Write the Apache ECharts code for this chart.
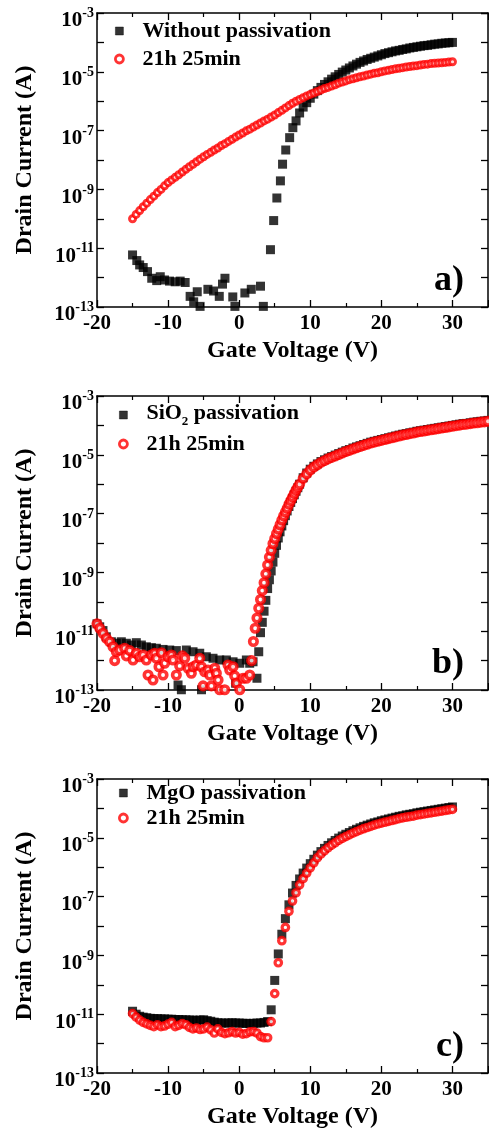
<!DOCTYPE html>
<html>
<head>
<meta charset="utf-8">
<script src="https://cdn.jsdelivr.net/npm/echarts@6/dist/echarts.min.js"></script>
<style>
  html, body { margin: 0; padding: 0; background: #fff; }
  #chart { width: 489px; height: 1133px; }
</style>
</head>
<body>
<div id="chart"></div>
<script>
// gate voltage sweep used by panels a) and c)
const vgSweep = [-15,-14.5,-14,-13.5,-13,-12.5,-12,-11.5,-11,-10.5,-10,-9.5,-9,-8.5,-8,-7.5,-7,-6.5,-6,-5.5,-5,-4.5,-4,-3.5,-3,-2.5,-2,-1.5,-1,-0.5,0,0.5,1,1.5,2,2.5,3,3.5,4,4.5,5,5.5,6,6.5,7,7.5,8,8.5,9,9.5,10,10.5,11,11.5,12,12.5,13,13.5,14,14.5,15,15.5,16,16.5,17,17.5,18,18.5,19,19.5,20,20.5,21,21.5,22,22.5,23,23.5,24,24.5,25,25.5,26,26.5,27,27.5,28,28.5,29,29.5,30];

// a) without passivation (black squares)
const aBlackV = [-15,-14.4,-14,-13.5,-12.9,-12.3,-11.6,-11.1,-10.5,-9.8,-9,-8.3,-7.6,-6.9,-6.4,-5.9,-5.5,-4.4,-3.6,-2.8,-2.35,-2,-0.9,-0.6,0.8,1.7,3,3.4,4.4,4.85,5.3,5.8,6.1,6.55,7.1,7.55,8,8.5,9,9.5,10,10.5,11,11.5,12,12.5,13,13.5,14,14.5,15,15.5,16,16.5,17,17.5,18,18.5,19,19.5,20,20.5,21,21.5,22,22.5,23,23.5,24,24.5,25,25.5,26,26.5,27,27.5,28,28.5,29,29.5,30];
const aBlackI = [5.9e-12,3.8e-12,2.7e-12,2.2e-12,1.6e-12,9.5e-13,7.9e-13,1.07e-12,8.3e-13,7.6e-13,7.2e-13,7.6e-13,6.8e-13,2.3e-13,1.5e-13,3.3e-13,1.05e-13,4.0e-13,3.5e-13,2.3e-13,6.0e-13,9.5e-13,2.2e-13,1.05e-13,3.0e-13,4.0e-13,5.1e-13,1.05e-13,8.9e-12,8.7e-11,5.1e-10,1.95e-9,7.2e-9,2.19e-8,5.75e-8,1.26e-7,2.14e-7,3.98e-7,6.31e-7,8.91e-7,1.26e-6,1.74e-6,2.29e-6,2.95e-6,3.72e-6,4.57e-6,5.62e-6,6.76e-6,8.13e-6,9.77e-6,1.15e-5,1.35e-5,1.58e-5,1.82e-5,2.09e-5,2.34e-5,2.63e-5,2.88e-5,3.16e-5,3.47e-5,3.8e-5,4.17e-5,4.47e-5,4.79e-5,5.13e-5,5.37e-5,5.75e-5,6.03e-5,6.46e-5,6.76e-5,7.08e-5,7.41e-5,7.76e-5,7.94e-5,8.32e-5,8.71e-5,8.91e-5,9.33e-5,9.55e-5,9.77e-5,1.0e-4];
// a) after 21h 25min (red circles), on vgSweep
const aRedI = [1.0e-10,1.41e-10,1.9e-10,2.57e-10,3.4e-10,4.5e-10,5.9e-10,7.8e-10,1.0e-9,1.32e-9,1.7e-9,2.1e-9,2.57e-9,3.16e-9,3.9e-9,4.8e-9,5.9e-9,7.2e-9,8.7e-9,1.07e-8,1.29e-8,1.55e-8,1.82e-8,2.19e-8,2.57e-8,3.1e-8,3.6e-8,4.3e-8,5.1e-8,6.0e-8,7.1e-8,8.3e-8,9.8e-8,1.12e-7,1.32e-7,1.55e-7,1.82e-7,2.14e-7,2.45e-7,2.9e-7,3.4e-7,4.1e-7,4.9e-7,5.9e-7,7.1e-7,8.5e-7,1.0e-6,1.15e-6,1.32e-6,1.51e-6,1.7e-6,1.9e-6,2.14e-6,2.4e-6,2.7e-6,2.95e-6,3.3e-6,3.6e-6,4.1e-6,4.5e-6,4.9e-6,5.4e-6,5.75e-6,6.3e-6,6.8e-6,7.2e-6,7.8e-6,8.3e-6,8.9e-6,9.3e-6,1.0e-5,1.07e-5,1.12e-5,1.2e-5,1.26e-5,1.32e-5,1.38e-5,1.45e-5,1.51e-5,1.58e-5,1.62e-5,1.7e-5,1.78e-5,1.82e-5,1.9e-5,1.95e-5,2.0e-5,2.04e-5,2.09e-5,2.14e-5,2.19e-5];

// b) SiO2 passivation (black squares)
const bBlackV = [-20,-19.62,-19.16,-18.69,-17.98,-17.28,-16.58,-15.87,-15.17,-14.47,-13.76,-13.06,-12.35,-11.65,-10.71,-9.77,-8.84,-8.6,-8.13,-7.43,-6.49,-5.55,-5.3,-4.62,-3.68,-2.74,-1.8,-0.86,-0.5,0.08,1.01,1.48,1.95,2.5,2.75,3,3.25,3.5,3.75,4,4.25,4.5,4.75,5,5.25,5.5,5.75,6,6.25,6.5,6.75,7,7.25,7.5,7.75,8,8.25,8.5,9,9.5,10,10.5,11,11.5,12,12.5,13,13.5,14,14.5,15,15.5,16,16.5,17,17.5,18,18.5,19,19.5,20,20.5,21,21.5,22,22.5,23,23.5,24,24.5,25,25.5,26,26.5,27,27.5,28,28.5,29,29.5,30,30.5,31,31.5,32,32.5,33,33.5,34,34.5,35];
const bBlackI = [1.78e-11,1.41e-11,1.05e-11,6.46e-12,4.37e-12,3.89e-12,4.37e-12,3.89e-12,3.39e-12,4.07e-12,3.39e-12,2.95e-12,2.75e-12,2.63e-12,2.4e-12,2.29e-12,2.19e-12,1.48e-13,1.02e-13,2.29e-12,2.0e-12,1.78e-12,1.02e-13,1.35e-12,1.2e-12,1.05e-12,1.05e-12,9.12e-13,1.7e-13,8.13e-13,1.05e-12,8.13e-13,9.12e-13,2.51e-13,2.0e-12,8.91e-12,2.0e-11,4.79e-11,1.12e-10,2.82e-10,5.62e-10,1.12e-9,2.24e-9,4.47e-9,8.32e-9,1.48e-8,2.4e-8,3.8e-8,5.75e-8,8.51e-8,1.23e-7,1.74e-7,2.4e-7,3.24e-7,4.37e-7,5.75e-7,7.59e-7,1.0e-6,1.66e-6,2.4e-6,3.24e-6,4.07e-6,4.9e-6,5.89e-6,6.76e-6,7.76e-6,8.71e-6,9.77e-6,1.1e-5,1.23e-5,1.38e-5,1.51e-5,1.7e-5,1.86e-5,2.04e-5,2.24e-5,2.45e-5,2.69e-5,2.88e-5,3.09e-5,3.31e-5,3.55e-5,3.8e-5,4.07e-5,4.37e-5,4.68e-5,5.01e-5,5.25e-5,5.62e-5,5.89e-5,6.31e-5,6.61e-5,6.92e-5,7.24e-5,7.59e-5,7.94e-5,8.32e-5,8.71e-5,9.12e-5,9.55e-5,1.0e-4,1.05e-4,1.1e-4,1.15e-4,1.17e-4,1.23e-4,1.29e-4,1.32e-4,1.38e-4,1.41e-4,1.48e-4];
// b) after 21h 25min (red circles)
const bRedV = [-20,-19.62,-19.16,-18.69,-18.22,-17.75,-17.51,-17.28,-16.81,-16.11,-15.87,-15.4,-14.93,-14.47,-14,-13.53,-13.06,-12.82,-12.35,-12.12,-11.89,-11.65,-11.28,-10.95,-10.71,-10.48,-10.01,-9.54,-9.31,-8.84,-8.37,-7.99,-7.66,-7.19,-6.73,-6.49,-6.02,-5.55,-5.32,-5.08,-4.85,-4.38,-4.15,-3.91,-3.44,-3.21,-2.97,-2.74,-2.04,-1.57,-1.33,-0.86,-0.63,-0.39,0.08,0.54,1.01,1.48,1.75,2,2.25,2.5,2.75,3,3.25,3.5,3.75,4,4.25,4.5,4.75,5,5.25,5.5,5.75,6,6.25,6.5,6.75,7,7.25,7.5,7.75,8,8.25,8.5,9,9.5,10,10.5,11,11.5,12,12.5,13,13.5,14,14.5,15,15.5,16,16.5,17,17.5,18,18.5,19,19.5,20,20.5,21,21.5,22,22.5,23,23.5,24,24.5,25,25.5,26,26.5,27,27.5,28,28.5,29,29.5,30,30.5,31,31.5,32,32.5,33,33.5,34,34.5,35];
const bRedI = [1.78e-11,1.26e-11,8.5e-12,5.75e-12,4.37e-12,2.95e-12,1.0e-12,2.0e-12,2.29e-12,2.63e-12,1.45e-12,2.19e-12,1.05e-12,1.78e-12,1.35e-12,1.55e-12,1.05e-12,3.24e-13,1.55e-12,2.19e-13,1.78e-12,1.2e-12,6.17e-13,1.86e-12,3.24e-13,8.13e-13,1.35e-12,1.55e-12,1.05e-12,3.24e-13,6.61e-13,1.45e-12,1.2e-12,5.5e-13,3.72e-13,6.17e-13,7.08e-13,1.2e-12,6.17e-13,1.38e-13,4.17e-13,4.79e-13,3.24e-13,1.38e-13,5.5e-13,3.72e-13,2.19e-13,1.02e-13,1.02e-13,7.08e-13,4.79e-13,6.17e-13,3.02e-13,1.7e-13,1.02e-13,2.51e-13,2.51e-13,3.24e-13,1.0e-12,4.47e-12,1.26e-11,2.82e-11,6.03e-11,1.2e-10,2.4e-10,4.47e-10,8.91e-10,1.78e-9,3.31e-9,5.62e-9,9.55e-9,1.41e-8,2.09e-8,2.95e-8,4.17e-8,6.03e-8,8.32e-8,1.12e-7,1.51e-7,2.09e-7,2.75e-7,3.63e-7,4.79e-7,6.31e-7,7.94e-7,1.0e-6,1.58e-6,2.24e-6,3.02e-6,3.8e-6,4.57e-6,5.5e-6,6.31e-6,7.24e-6,8.13e-6,9.12e-6,1.02e-5,1.15e-5,1.29e-5,1.41e-5,1.58e-5,1.74e-5,1.91e-5,2.09e-5,2.29e-5,2.51e-5,2.69e-5,2.88e-5,3.09e-5,3.31e-5,3.55e-5,3.8e-5,4.07e-5,4.37e-5,4.68e-5,4.9e-5,5.25e-5,5.5e-5,5.89e-5,6.17e-5,6.46e-5,6.76e-5,7.08e-5,7.41e-5,7.76e-5,8.13e-5,8.51e-5,8.91e-5,9.33e-5,9.77e-5,1.02e-4,1.07e-4,1.1e-4,1.15e-4,1.2e-4,1.23e-4,1.29e-4,1.32e-4,1.38e-4];

// c) MgO passivation, both on vgSweep
const cBlackI = [1.26e-11,1.0e-11,8.51e-12,7.94e-12,7.59e-12,7.24e-12,7.08e-12,7.08e-12,6.92e-12,6.92e-12,6.76e-12,6.76e-12,6.61e-12,6.61e-12,6.46e-12,6.46e-12,6.31e-12,6.31e-12,6.17e-12,6.31e-12,6.46e-12,6.03e-12,5.75e-12,5.37e-12,5.13e-12,5.01e-12,5.01e-12,5.01e-12,5.13e-12,5.01e-12,5.01e-12,4.9e-12,4.9e-12,4.79e-12,4.9e-12,5.01e-12,5.01e-12,5.25e-12,5.62e-12,1.41e-11,1.41e-10,1.12e-9,5.25e-9,1.78e-8,5.25e-8,1.32e-7,2.4e-7,3.98e-7,6.31e-7,9.33e-7,1.32e-6,1.86e-6,2.57e-6,3.39e-6,4.37e-6,5.5e-6,6.76e-6,8.13e-6,9.77e-6,1.15e-5,1.32e-5,1.51e-5,1.74e-5,1.95e-5,2.19e-5,2.45e-5,2.69e-5,2.95e-5,3.24e-5,3.47e-5,3.8e-5,4.07e-5,4.37e-5,4.68e-5,5.01e-5,5.37e-5,5.62e-5,6.03e-5,6.31e-5,6.61e-5,7.08e-5,7.41e-5,7.76e-5,8.13e-5,8.51e-5,8.91e-5,9.33e-5,9.77e-5,1.02e-4,1.07e-4,1.12e-4];
const cRedI = [1.05e-11,7.94e-12,6.31e-12,5.25e-12,4.68e-12,4.17e-12,3.8e-12,4.37e-12,3.8e-12,3.98e-12,4.57e-12,5.25e-12,3.8e-12,4.17e-12,4.79e-12,4.37e-12,3.55e-12,3.16e-12,3.39e-12,3.02e-12,3.16e-12,3.63e-12,2.95e-12,2.29e-12,3.16e-12,2.4e-12,2.19e-12,2.34e-12,2.57e-12,2.29e-12,2.4e-12,2.09e-12,2.19e-12,2.51e-12,2.57e-12,2.29e-12,1.74e-12,1.58e-12,1.58e-12,5.62e-12,5.01e-11,5.62e-10,3.16e-9,8.91e-9,3.16e-8,7.08e-8,1.35e-7,2.51e-7,4.07e-7,6.31e-7,9.55e-7,1.41e-6,2.09e-6,2.82e-6,3.63e-6,4.57e-6,5.62e-6,6.76e-6,8.13e-6,9.55e-6,1.1e-5,1.26e-5,1.45e-5,1.62e-5,1.82e-5,2.04e-5,2.24e-5,2.45e-5,2.69e-5,2.95e-5,3.16e-5,3.39e-5,3.63e-5,3.89e-5,4.17e-5,4.47e-5,4.79e-5,5.01e-5,5.25e-5,5.5e-5,5.89e-5,6.17e-5,6.46e-5,6.76e-5,7.08e-5,7.41e-5,7.76e-5,8.13e-5,8.51e-5,8.91e-5,9.33e-5];

const xTicks = [-20, 35, 10];          // min, max, step
const yRange = [1e-13, 1e-3];
const panelLabels = ['a)', 'b)', 'c)'];
const firstNames = ['Without passivation', 'SiO2 passivation', 'MgO passivation'];
const agedName = '21h 25min';

const FONT = '"Liberation Serif", "Times New Roman", serif';
const tops = [13, 396, 779];
const zip = (v, c) => v.map((x, k) => [x, c[k]]);

const chart = echarts.init(document.getElementById('chart'));

let grids = [], xAxes = [], yAxes = [], legends = [], graphics = [];
tops.forEach((top, i) => {
  grids.push({ left: 97, top: top, width: 391, height: 294 });
  const line = { show: true, onZero: false, lineStyle: { color: '#000', width: 1.5 } };
  const tick = { show: true, inside: true, length: 7, lineStyle: { color: '#000', width: 1.3 } };
  const xBase = { type: 'value', gridIndex: i, min: xTicks[0], max: xTicks[1], interval: xTicks[2],
    axisLine: line, axisTick: tick, splitLine: { show: false },
    minorTick: { show: true, splitNumber: 2, length: 4, lineStyle: { color: '#000', width: 1.2 } } };
  xAxes.push(Object.assign({}, xBase, {
    position: 'bottom',
    axisLabel: { margin: 6, fontSize: 21, fontWeight: 'bold', fontFamily: FONT, color: '#000', showMaxLabel: false },
    name: 'Gate Voltage (V)', nameLocation: 'middle', nameGap: 32,
    nameTextStyle: { fontSize: 24, fontWeight: 'bold', fontFamily: FONT, color: '#000' }
  }));
  xAxes.push(Object.assign({}, xBase, { position: 'top', axisLabel: { show: false } }));

  const yBase = { type: 'log', logBase: 10, gridIndex: i, min: yRange[0], max: yRange[1], splitNumber: 10,
    axisLine: line, axisTick: tick, splitLine: { show: false } };
  yAxes.push(Object.assign({}, yBase, {
    position: 'left',
    axisLabel: {
      margin: 3, padding: [12, 0, 0, 0],
      formatter: v => { const e = Math.round(Math.log10(v)); return e % 2 ? '{b|10}{s|' + e + '}' : ''; },
      rich: {
        b: { fontSize: 21, fontWeight: 'bold', fontFamily: FONT, color: '#000', lineHeight: 25, verticalAlign: 'bottom' },
        s: { fontSize: 14, fontWeight: 'bold', fontFamily: FONT, color: '#000', lineHeight: 12, verticalAlign: 'top' }
      }
    },
    name: 'Drain Current (A)', nameLocation: 'middle', nameGap: 60, nameRotate: 90,
    nameTextStyle: { fontSize: 24, fontWeight: 'bold', fontFamily: FONT, color: '#000' }
  }));
  yAxes.push(Object.assign({}, yBase, { position: 'right', axisLabel: { show: false } }));

  const gaps = [6, 5, 3];
  const legTop = [top + 2, top + 1, top - 2];
  legends.push({
    orient: 'vertical', left: i === 0 ? 109 : 113, top: legTop[i], itemWidth: 8, itemHeight: 8,
    itemGap: gaps[i], selectedMode: false,
    data: [
      { name: firstNames[i], icon: 'rect', itemStyle: { color: '#000', borderColor: '#000', borderWidth: 0.5 } },
      { name: agedName, icon: 'circle', itemStyle: { color: '#fff', borderColor: '#ff0000', borderWidth: 2.8 } }
    ],
    formatter: n => n === 'SiO2 passivation' ? '{m|SiO}{sub|2}{m| passivation}' : n,
    textStyle: {
      fontSize: 22, fontWeight: 'bold', fontFamily: FONT, color: '#000', padding: [0, 0, 0, 14],
      rich: {
        m: { fontSize: 22, fontWeight: 'bold', fontFamily: FONT, color: '#000', lineHeight: 26, verticalAlign: 'top' },
        sub: { fontSize: 13, fontWeight: 'bold', fontFamily: FONT, color: '#000', lineHeight: 13, verticalAlign: 'bottom' }
      }
    }
  });

  graphics.push({
    type: 'text', x: 464, y: top + 268, z: 10,
    style: { text: panelLabels[i], font: 'bold 36px ' + FONT, fill: '#000', textAlign: 'right', textVerticalAlign: 'middle' }
  });
});

const blackStyle = { color: '#000' };
const redStyle = (w) => ({ color: '#fff', borderColor: '#ff0000', borderWidth: w });
const mk = (i, name, data, sym, size, style, z) => ({
  type: 'scatter', name: name, xAxisIndex: 2 * i, yAxisIndex: 2 * i, data: data,
  symbol: sym, symbolSize: size, itemStyle: style, z: z, silent: true
});

const series = [
  mk(0, firstNames[0], zip(aBlackV, aBlackI), 'rect', 9, blackStyle, 2),
  mk(0, agedName, zip(vgSweep, aRedI), 'circle', 6, redStyle(3), 3),
  mk(1, firstNames[1], zip(bBlackV, bBlackI), 'rect', 9, blackStyle, 2),
  mk(1, agedName, zip(bRedV, bRedI), 'circle', 7.5, redStyle(3.6), 3),
  mk(2, firstNames[2], zip(vgSweep, cBlackI), 'rect', 9, blackStyle, 2),
  mk(2, agedName, zip(vgSweep, cRedI), 'circle', 6.5, redStyle(3.2), 3)
];

chart.setOption({
  animation: false,
  backgroundColor: '#fff',
  grid: grids,
  xAxis: xAxes,
  yAxis: yAxes,
  legend: legends,
  graphic: graphics,
  series: series
});
</script>
</body>
</html>
